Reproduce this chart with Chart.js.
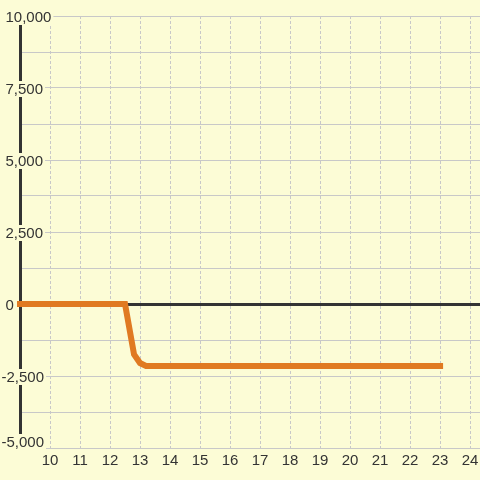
<!DOCTYPE html>
<html>
<head>
<meta charset="utf-8">
<script src="https://cdn.jsdelivr.net/npm/chart.js@4/dist/chart.umd.min.js"></script>
<style>
  html, body { margin: 0; padding: 0; background: #fcfcd6; }
  #wrap { width: 480px; height: 480px; position: relative; background: #fcfcd6; }
</style>
</head>
<body>
<div id="wrap"><canvas id="chart"></canvas></div>
<script>
// values
const xValues = [9, 12.5, 12.8, 13.0, 13.2, 23];
const yValues = [0, 0, -1750, -2050, -2150, -2150];

const yTickValues = [-5000, -2500, 0, 2500, 5000, 7500, 10000];
const yTickLabels = ["-5,000", "-2,500", "0", "2,500", "5,000", "7,500", "10,000"];

const xMin = 9, xMax = 24.33;
const yMin = -5000, yMax = 10000;
const yStep = 1250;

const BG = "#fcfcd6";
const TEXT = "#333333";
const GRID = "#c8c8c8";
const AXIS = "#333333";
const LINE = "#e07a22";
const FONT = "'Liberation Sans', Arial, sans-serif";

const points = xValues.map(function (x, i) {
  return { x: x, y: yValues[i] };
});

// y labels sit across the axis line on a patch of background
const yLabelPlugin = {
  id: "yLabels",
  beforeDatasetsDraw: function (chart) {
    const ctx = chart.ctx;
    const yScale = chart.scales.y;
    const bottom = chart.chartArea.bottom;
    ctx.save();
    ctx.font = "15px " + FONT;
    ctx.textBaseline = "middle";
    ctx.textAlign = "left";
    yTickValues.forEach(function (v, i) {
      const text = yTickLabels[i];
      let py = yScale.getPixelForValue(v) + 1.5;
      // keep the lowest label inside the plot
      if (py + 8 > bottom) py = bottom - 5.5;
      const px = text.charAt(0) === "-" ? 1.5 : 5.5;
      const w = ctx.measureText(text).width;
      ctx.fillStyle = BG;
      ctx.fillRect(px - 2, py - 8.5, w + 4, 16);
      ctx.fillStyle = TEXT;
      ctx.fillText(text, px, py);
    });
    ctx.restore();
  },
};

new Chart(document.getElementById("chart").getContext("2d"), {
  type: "scatter",
  data: {
    datasets: [{
      data: points,
      showLine: true,
      borderColor: LINE,
      backgroundColor: LINE,
      borderWidth: 6,
      borderCapStyle: "square",
      borderJoinStyle: "miter",
      pointRadius: 0,
      pointHoverRadius: 0,
      tension: 0,
      clip: 3,
    }],
  },
  plugins: [yLabelPlugin],
  options: {
    responsive: true,
    maintainAspectRatio: false,
    animation: false,
    layout: { padding: { left: 6, top: 16, right: 0, bottom: 0 } },
    plugins: {
      legend: { display: false },
      tooltip: { enabled: false },
    },
    scales: {
      x: {
        type: "linear",
        min: xMin,
        max: xMax,
        afterFit: function (s) {
          s.height = 32;
          s.paddingLeft = 0;
          s.paddingRight = 0;
        },
        border: { display: false, dash: [3, 2] },
        grid: {
          drawTicks: false,
          color: function (c) {
            return c.tick && c.tick.value === xMin ? "rgba(0,0,0,0)" : GRID;
          },
          lineWidth: 1,
        },
        ticks: {
          stepSize: 1,
          includeBounds: false,
          autoSkip: false,
          maxRotation: 0,
          padding: 4,
          color: TEXT,
          font: { family: FONT, size: 15 },
          callback: function (v) {
            return v === xMin ? "" : String(v);
          },
        },
      },
      y: {
        type: "linear",
        min: yMin,
        max: yMax,
        afterFit: function (s) {
          s.width = 14;
          s.paddingTop = 0;
          s.paddingBottom = 0;
        },
        border: { display: true, color: AXIS, width: 3, z: -1 },
        grid: {
          drawTicks: false,
          color: function (c) {
            return c.tick && c.tick.value === 0 ? AXIS : GRID;
          },
          lineWidth: function (c) {
            return c.tick && c.tick.value === 0 ? 3 : 1;
          },
        },
        ticks: {
          stepSize: yStep,
          autoSkip: false,
          display: false,
        },
      },
    },
  },
});
</script>
</body>
</html>
